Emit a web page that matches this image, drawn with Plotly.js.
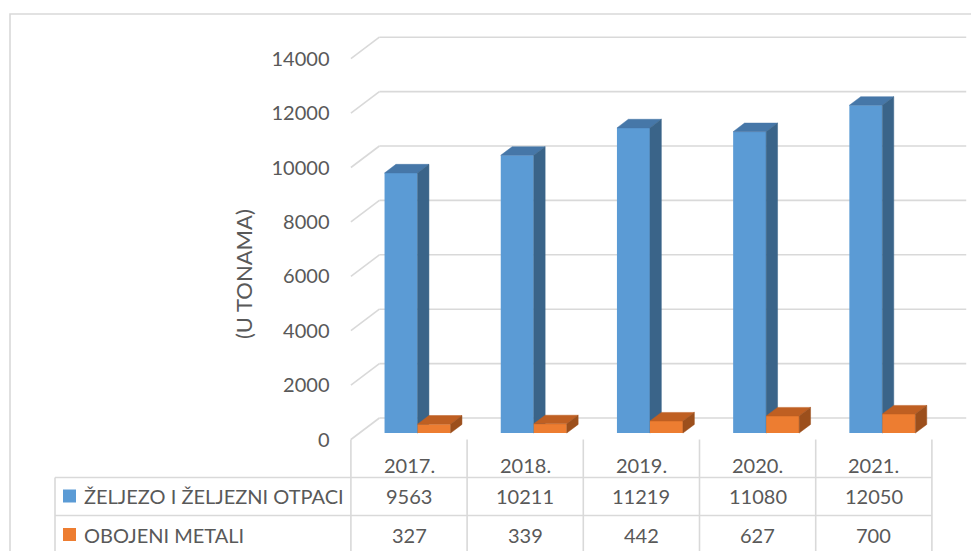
<!DOCTYPE html>
<html>
<head>
<meta charset="utf-8">
<script src="https://cdn.plot.ly/plotly-3.0.1.min.js"></script>
<style>
  html, body { margin: 0; padding: 0; background: #ffffff; }
  #chart { width: 971px; height: 551px; }
</style>
</head>
<body>
<div id="chart"></div>
<script>
// ---- data ----
const years = ['2017.', '2018.', '2019.', '2020.', '2021.'];
const ironScrap = [9563, 10211, 11219, 11080, 12050];
const nonFerrous = [327, 339, 442, 627, 700];
const seriesNames = ['ŽELJEZO I ŽELJEZNI OTPACI', 'OBOJENI METALI'];
const yTicks = [0, 2000, 4000, 6000, 8000, 10000, 12000, 14000];
const yTitle = '(U TONAMA)';

// ---- geometry / style ----
const W = 971, H = 551;
const colW = 116.2;      // px per category
const x0px = 409;        // px of first category centre (front plane)
const y0px = 439.5;      // px of value 0 (front plane)
const kpx = 0.0272;      // px per value unit
const xRange = [(0 - x0px) / colW, (W - x0px) / colW];
const yRange = [(y0px - H) / kpx, y0px / kpx];
const DXu = 28.5 / colW; // depth 1 shift in x units
const DYu = 21.5 / kpx;  // depth 1 shift in value units
const d0 = 0.3, d1 = 0.7; // bar front/back depth
const bw = 33 / colW;     // bar width
const textColor = '#595959';
const gridColor = '#d9d9d9';
const fontFamily = 'Lato, "Open Sans", sans-serif';
const fs = 20;

const idx = years.map((_, i) => i);
function proj(x, v, d) { return [x + d * DXu, v + d * DYu]; }

function faces(vals, leftOff, xa, ya, topColor, sideColor) {
  const top = { x: [], y: [] }, side = { x: [], y: [] };
  vals.forEach((v, i) => {
    const xl = i + leftOff, xr = xl + bw;
    [[xl, v, d0], [xr, v, d0], [xr, v, d1], [xl, v, d1], [xl, v, d0]].forEach(p => {
      const q = proj(p[0], p[1], p[2]); top.x.push(q[0]); top.y.push(q[1]);
    });
    top.x.push(null); top.y.push(null);
    [[xr, 0, d0], [xr, v, d0], [xr, v, d1], [xr, 0, d1], [xr, 0, d0]].forEach(p => {
      const q = proj(p[0], p[1], p[2]); side.x.push(q[0]); side.y.push(q[1]);
    });
    side.x.push(null); side.y.push(null);
  });
  const mk = (o, c) => ({
    type: 'scatter', mode: 'lines', x: o.x, y: o.y, xaxis: xa, yaxis: ya,
    fill: 'toself', fillcolor: c, line: { width: 0.5, color: c },
    hoverinfo: 'skip', showlegend: false, connectgaps: false
  });
  return [mk(top, topColor), mk(side, sideColor)];
}

const traces = [
  {
    type: 'bar', name: seriesNames[0], x: idx, y: ironScrap,
    base: d0 * DYu, offset: -bw + d0 * DXu, width: bw,
    marker: { color: '#5b9bd5', line: { width: 0 } },
    xaxis: 'x', yaxis: 'y', showlegend: false,
    hovertemplate: '%{customdata}<extra></extra>', customdata: ironScrap
  },
  ...faces(ironScrap, -bw, 'x', 'y', '#4677a8', '#3a6489'),
  {
    type: 'bar', name: seriesNames[1], x: idx, y: nonFerrous,
    base: d0 * DYu, offset: d0 * DXu, width: bw,
    marker: { color: '#ed7d31', line: { width: 0 } },
    xaxis: 'x2', yaxis: 'y2', showlegend: false,
    hovertemplate: '%{customdata}<extra></extra>', customdata: nonFerrous
  },
  ...faces(nonFerrous, 0, 'x2', 'y2', '#bf5f22', '#9c4f1c')
];

// ---- shapes: back wall grid, side diagonals, table ----
const shapes = [];
const nCat = years.length;
const lineStyle = { color: gridColor, width: 1.6 };
yTicks.forEach(t => {
  const a = proj(-0.5, t, 1), b = proj(nCat - 0.45, t, 1), f = proj(-0.5, t, 0);
  shapes.push({ type: 'line', xref: 'x', yref: 'y', x0: a[0], y0: a[1], x1: b[0], y1: b[1], line: lineStyle, layer: 'below' });
  shapes.push({ type: 'line', xref: 'x', yref: 'y', x0: f[0], y0: f[1], x1: a[0], y1: a[1], line: lineStyle, layer: 'below' });
});
// table verticals at category boundaries
for (let i = 0; i <= nCat; i++) {
  shapes.push({ type: 'line', xref: 'x', yref: 'y', x0: i - 0.5, x1: i - 0.5, y0: 0, y1: yRange[0], line: lineStyle });
}
// table horizontals and legend cell
const rowLines = [477.5, 515.5];
rowLines.forEach(py => {
  shapes.push({ type: 'line', xref: 'paper', yref: 'paper', x0: 55 / W, x1: 932 / W, y0: 1 - py / H, y1: 1 - py / H, line: lineStyle });
});
shapes.push({ type: 'line', xref: 'paper', yref: 'paper', x0: 55 / W, x1: 55 / W, y0: 1 - 477.5 / H, y1: -0.05, line: lineStyle });
// outer chart border (left + top)
shapes.push({ type: 'path', xref: 'paper', yref: 'paper', path: `M ${10 / W} -0.05 L ${10 / W} ${1 - 14 / H} L 1.05 ${1 - 14 / H}`, line: lineStyle });
// legend keys
const keyColors = ['#5b9bd5', '#ed7d31'];
const rowCentres = [464.5, 496, 534.5];
keyColors.forEach((c, k) => {
  const cy = rowCentres[k + 1];
  shapes.push({ type: 'rect', xref: 'paper', yref: 'paper', x0: 63 / W, x1: 76 / W, y0: 1 - (cy + 6.5) / H, y1: 1 - (cy - 6.5) / H, fillcolor: c, line: { width: 0 } });
});

// ---- annotations: table text ----
const font = { family: fontFamily, size: fs, color: textColor };
const annotations = [];
years.forEach((yr, i) => {
  annotations.push({ x: i, xref: 'x', y: 1 - rowCentres[0] / H, yref: 'paper', text: yr, showarrow: false, font, xanchor: 'center', yanchor: 'middle' });
  annotations.push({ x: i, xref: 'x', y: 1 - rowCentres[1] / H, yref: 'paper', text: String(ironScrap[i]), showarrow: false, font, xanchor: 'center', yanchor: 'middle' });
  annotations.push({ x: i, xref: 'x', y: 1 - rowCentres[2] / H, yref: 'paper', text: String(nonFerrous[i]), showarrow: false, font, xanchor: 'center', yanchor: 'middle' });
});
seriesNames.forEach((n, k) => {
  annotations.push({ x: 82 / W, xref: 'paper', y: 1 - rowCentres[k + 1] / H, yref: 'paper', text: n, showarrow: false, font, xanchor: 'left', yanchor: 'middle' });
});
annotations.push({ x: 244 / W, xref: 'paper', y: 1 - 274 / H, yref: 'paper', text: yTitle, textangle: -90, showarrow: false, font: { family: fontFamily, size: 22, color: textColor }, xanchor: 'center', yanchor: 'middle' });

const hidden = { showgrid: false, zeroline: false, showline: false, showticklabels: false, ticks: '' };
const layout = {
  width: W, height: H,
  margin: { l: 0, r: 0, t: 0, b: 0, pad: 0 },
  paper_bgcolor: '#ffffff', plot_bgcolor: 'rgba(0,0,0,0)',
  barmode: 'overlay', showlegend: false,
  xaxis: Object.assign({ range: xRange, domain: [0, 1], fixedrange: true }, hidden),
  yaxis: {
    range: yRange, domain: [0, 1], anchor: 'free', position: 349.5 / W,
    showgrid: false, zeroline: false, showline: false, ticks: '',
    tickvals: yTicks, ticktext: yTicks.map(String), ticklabelstandoff: 20,
    tickfont: font, fixedrange: true
  },
  xaxis2: Object.assign({ range: xRange, overlaying: 'x', anchor: 'y2', fixedrange: true }, hidden),
  yaxis2: Object.assign({ range: yRange, overlaying: 'y', anchor: 'x2', fixedrange: true }, hidden),
  shapes, annotations,
  font: { family: fontFamily, color: textColor }
};

Plotly.newPlot('chart', traces, layout, { displayModeBar: false, staticPlot: true });
</script>
</body>
</html>
